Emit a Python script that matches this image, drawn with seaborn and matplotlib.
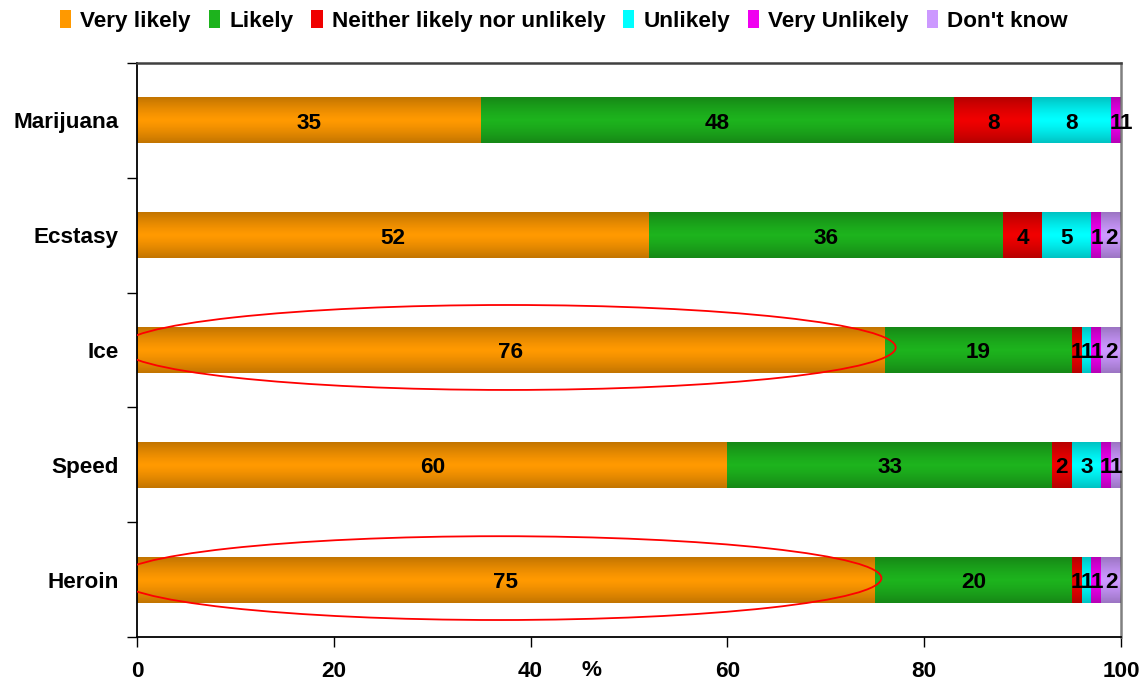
import numpy as np
import pandas as pd
import matplotlib
matplotlib.use("Agg")
import matplotlib.pyplot as plt
from matplotlib.patches import Ellipse, Patch
from matplotlib.colors import LinearSegmentedColormap
from matplotlib.transforms import blended_transform_factory
import seaborn as sns

# Perceived likelihood of harm, % of respondents per drug
drugs = ["Marijuana", "Ecstasy", "Ice", "Speed", "Heroin"]
responses = ["Very likely", "Likely", "Neither likely nor unlikely",
             "Unlikely", "Very Unlikely", "Don't know"]
very_likely = [35, 52, 76, 60, 75]
likely = [48, 36, 19, 33, 20]
neither = [8, 4, 1, 2, 1]
unlikely = [8, 5, 1, 3, 1]
very_unlikely = [1, 1, 1, 1, 1]
dont_know = [1, 2, 2, 1, 2]
x_ticks = [0, 20, 40, 60, 80, 100]

series = [very_likely, likely, neither, unlikely, very_unlikely, dont_know]
colors = ["#FF9900", "#1DB31D", "#F00000", "#00FFFF", "#F000F0", "#CC99FF"]

sns.set_theme(style="white")
plt.rcParams["font.family"] = ["Liberation Sans", "DejaVu Sans"]
plt.rcParams["font.weight"] = "bold"
plt.rcParams["text.color"] = "black"
plt.rcParams["xtick.color"] = "black"
plt.rcParams["ytick.color"] = "black"
plt.rcParams["axes.labelcolor"] = "black"

FS = 16.2

fig = plt.figure(figsize=(11.44, 6.81), dpi=100)
ax = fig.add_axes([137 / 1144, 1 - 637 / 681, (1121 - 137) / 1144, (637 - 63) / 681])

values = np.array(series, dtype=float)          # shape (responses, drugs)
cum = np.cumsum(values, axis=0)
bar_w = 0.4

# Stacked bars: draw cumulative totals from the outermost segment inwards
for i in range(len(responses) - 1, -1, -1):
    df = pd.DataFrame({"drug": drugs, "total": cum[i]})
    sns.barplot(data=df, x="total", y="drug", order=drugs, orient="h",
                color=colors[i], saturation=1, width=bar_w, ax=ax,
                edgecolor="none", linewidth=0)

# Cylinder-like shading: darker along the top and bottom edge of each bar
t = np.linspace(-1, 1, 64)
shade = (np.abs(t) ** 1.3)[:, None]
shade_cmap = LinearSegmentedColormap.from_list(
    "shade", [(0, 0, 0, 0), (0, 0, 0, 0.24)])
for j, d in enumerate(drugs):
    ax.imshow(shade, cmap=shade_cmap, vmin=0, vmax=1, aspect="auto",
              extent=(0, min(cum[-1, j], 100), j + bar_w / 2, j - bar_w / 2),
              interpolation="bilinear", zorder=3)

# Segment value labels
for j in range(len(drugs)):
    left = 0.0
    for i in range(len(responses)):
        v = values[i, j]
        ax.text(left + v / 2, j + 0.025, f"{v:g}", ha="center", va="center",
                fontsize=FS, fontweight="bold", color="black", zorder=5)
        left += v

# Highlight the two drugs with the highest "very likely" share
ax.add_patch(Ellipse((37.7, 1.978), 78.8, 0.74, fill=False,
                     edgecolor="#FF0000", linewidth=1.3, zorder=6))
ax.add_patch(Ellipse((36.8, 3.987), 77.7, 0.73, fill=False,
                     edgecolor="#FF0000", linewidth=1.3, zorder=6))

ax.set_xlim(0, 100)
ax.set_ylim(4.5, -0.5)
ax.set_xticks(x_ticks)
ax.set_xticklabels([str(v) for v in x_ticks], fontsize=FS, fontweight="bold")
ax.set_yticks(range(len(drugs)))
ax.set_yticklabels(drugs, fontsize=FS, fontweight="bold", va="center_baseline")
ax.set_yticks(np.arange(-0.5, len(drugs), 1), minor=True)
ax.tick_params(axis="y", which="major", length=0, pad=13)
ax.tick_params(axis="y", which="minor", length=7, width=1, color="black",
               direction="out", left=True)
ax.tick_params(axis="x", which="major", length=7, width=1, color="black",
               direction="out", bottom=True, pad=10)
ax.set_xlabel("")
ax.set_ylabel("")

tr = blended_transform_factory(ax.transData, ax.transAxes)
ax.text(46.2, -34 / 574, "%", transform=tr, ha="center", va="center",
        fontsize=FS, fontweight="bold")

for side in ["left", "bottom"]:
    ax.spines[side].set_color("black")
    ax.spines[side].set_linewidth(1.3)
for side in ["top", "right"]:
    ax.spines[side].set_color("#808080")
    ax.spines[side].set_linewidth(1.8)
    ax.spines[side].set_visible(True)
ax.spines["top"].set_color("#404040")

handles = [Patch(facecolor=c, edgecolor="none") for c in colors]
fig.legend(handles, responses, loc="center", bbox_to_anchor=(564 / 1144, 1 - 21 / 681),
           ncol=6, frameon=False, prop={"size": FS, "weight": "bold"},
           handlelength=0.5, handleheight=0.8, handletextpad=0.4,
           columnspacing=0.8, borderaxespad=0)

fig.savefig("out.png", dpi=100)
